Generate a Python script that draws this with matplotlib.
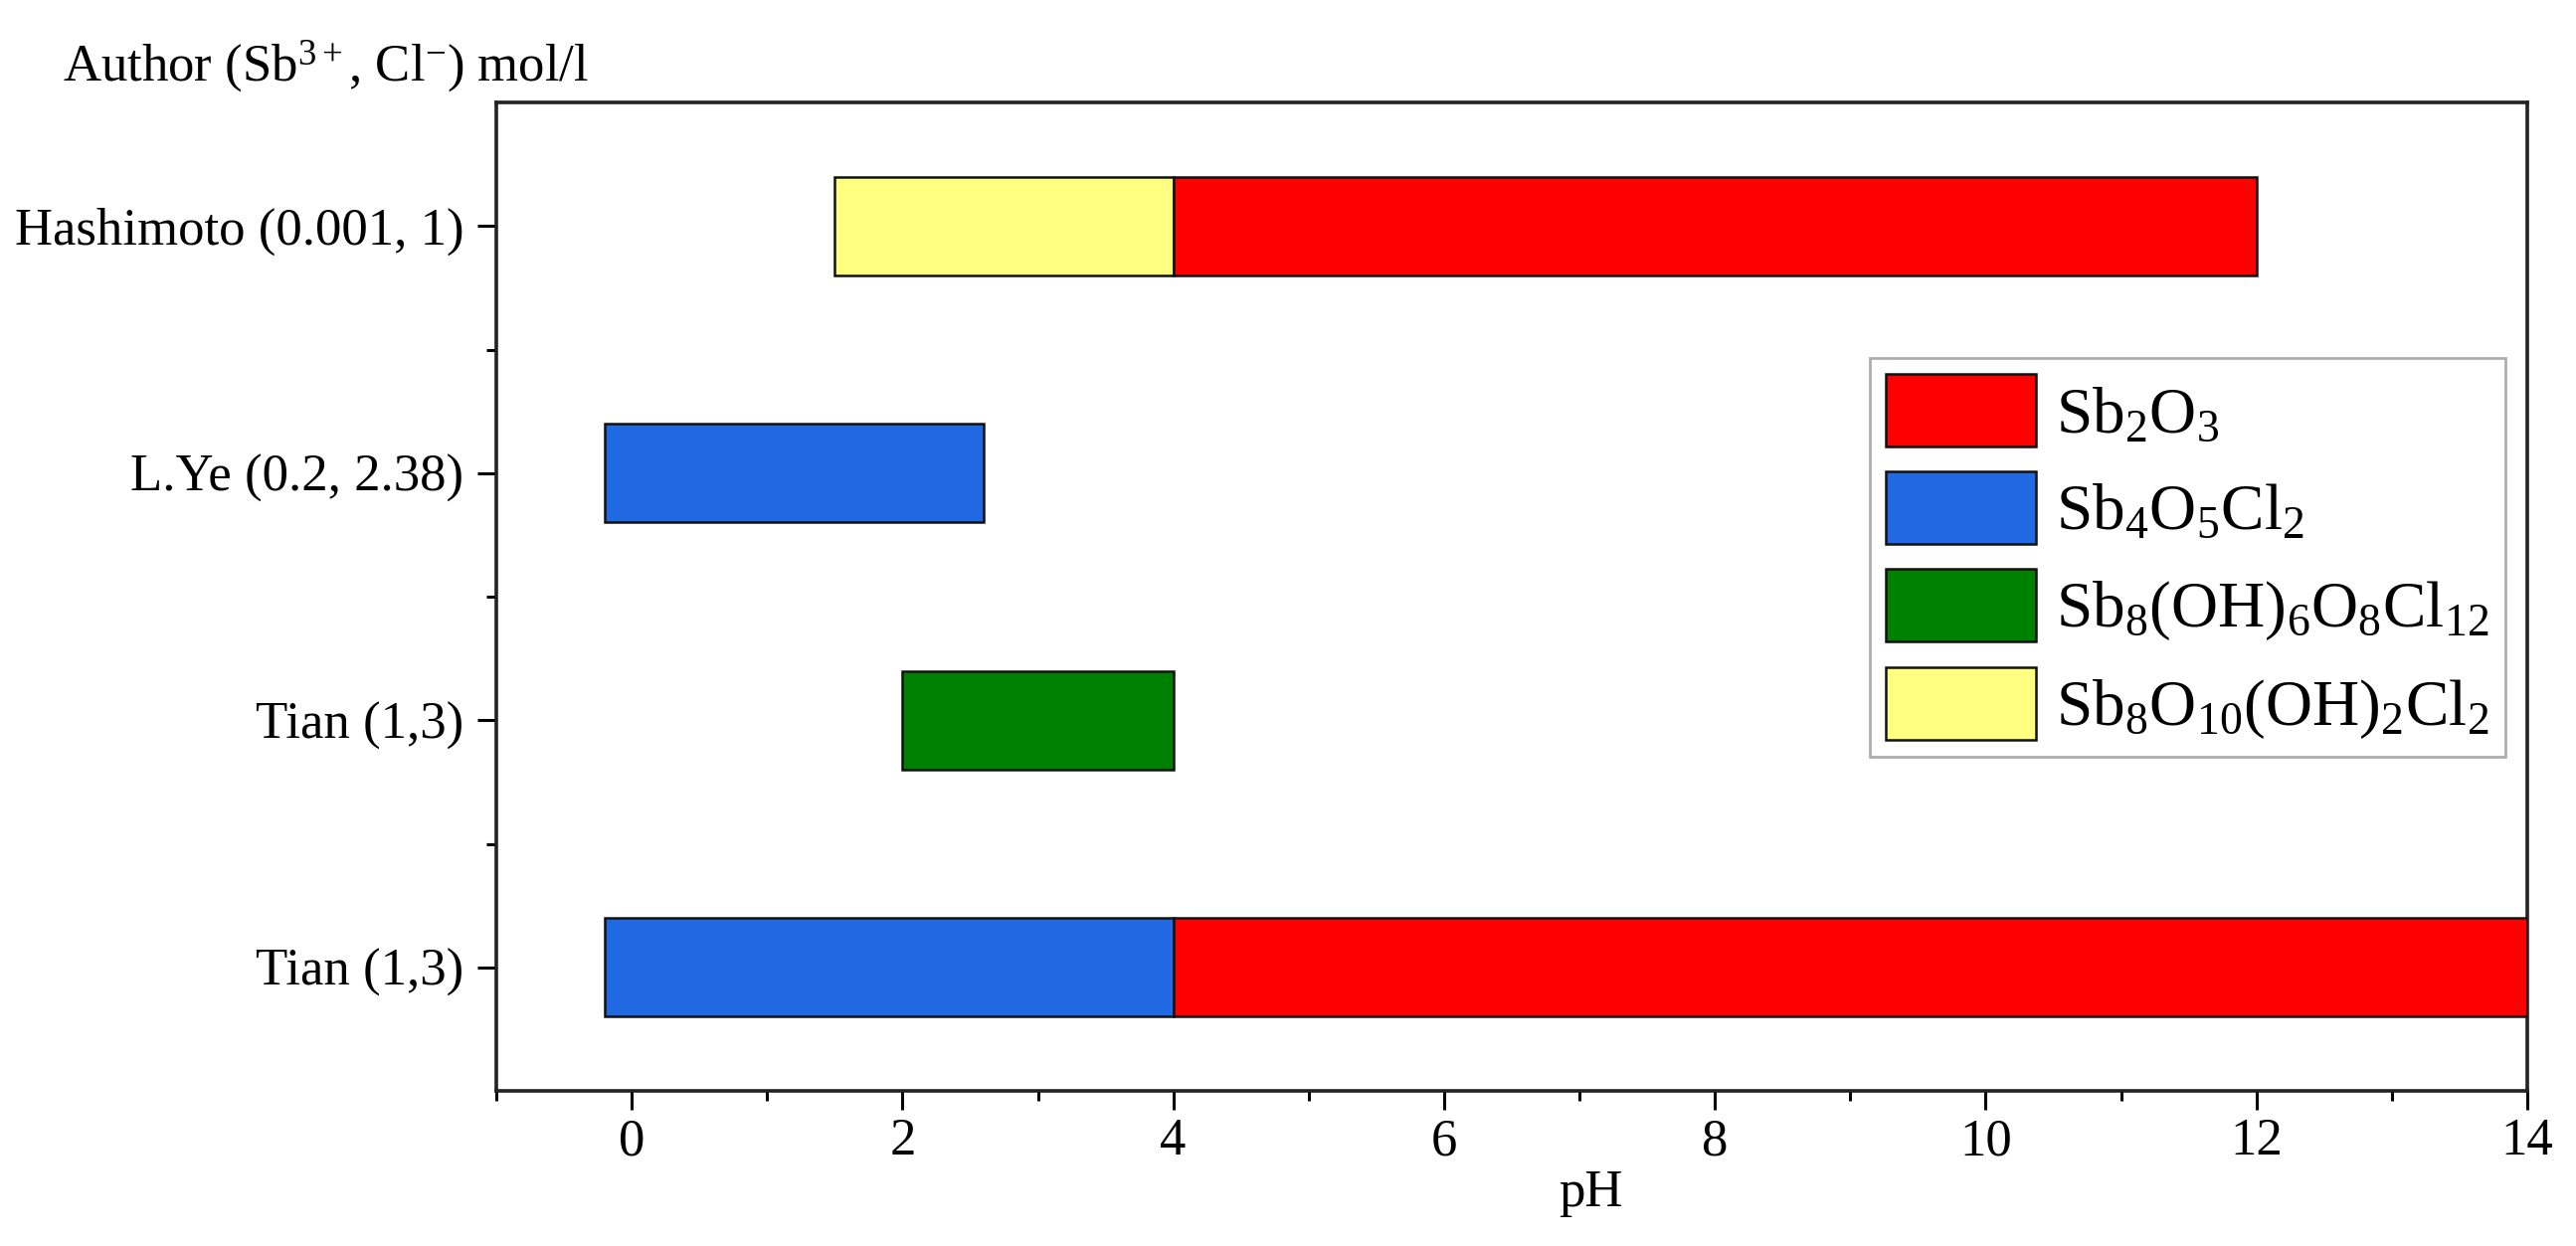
import matplotlib
matplotlib.use('Agg')
import matplotlib.pyplot as plt
from matplotlib.patches import Patch

plt.rcParams['font.family'] = ['Liberation Serif', 'DejaVu Serif']
plt.rcParams['mathtext.fontset'] = 'custom'
plt.rcParams['mathtext.rm'] = 'Liberation Serif'
plt.rcParams['mathtext.it'] = 'Liberation Serif:italic'

# categories from bottom to top
autores = ['Tian (1,3)', 'Tian (1,3)', 'L.Ye (0.2, 2.38)', 'Hashimoto (0.001, 1)']

fases = ['Sb$_2$O$_3$', 'Sb$_4$O$_5$Cl$_2$',
         'Sb$_8$(OH)$_6$O$_8$Cl$_{12}$', 'Sb$_8$O$_{10}$(OH)$_2$Cl$_2$']
cores = ['#FF0000', '#2069E3', '#008000', '#FFFF80']

# pH ranges: row, start, end, phase index
seg_linha = [3, 3, 2, 1, 0, 0]
seg_inicio = [1.5, 4, -0.2, 2, -0.2, 4]
seg_fim = [4, 12, 2.6, 4, 4, 14]
seg_fase = [3, 0, 1, 2, 1, 0]

fig = plt.figure(figsize=(25.9, 12.53), dpi=100)
ax = fig.add_axes([499/2590, 1-1097/1253, (2541-499)/2590, (1097-103)/1253])

for i in range(len(seg_linha)):
    ax.barh(seg_linha[i], seg_fim[i]-seg_inicio[i], left=seg_inicio[i], height=0.4,
            color=cores[seg_fase[i]], edgecolor='#111111', linewidth=1.8, zorder=3)

ax.set_xlim(-1, 14)
ax.set_ylim(-0.5, 3.5)
ax.set_xticks(range(0, 15, 2))
ax.set_xticks(range(-1, 15, 2), minor=True)
ax.set_yticks(range(len(autores)))
ax.set_yticklabels(autores)
ax.set_yticks([0.5, 1.5, 2.5], minor=True)

for s in ax.spines.values():
    s.set_linewidth(2.6)
    s.set_color('#222222')
ax.tick_params(axis='both', which='major', labelsize=38, length=13.5, width=2.2, direction='out')
ax.tick_params(axis='both', which='minor', length=7.5, width=2.2, direction='out')
ax.tick_params(axis='y', which='major', pad=10)
ax.tick_params(axis='x', which='major', pad=6)

ax.set_xlabel('pH', fontsize=38)
ax.xaxis.set_label_coords(0.5387, -0.0795)

fig.text(63/2590, 1-81/1253, 'Author (Sb$^{3+}$, Cl$^{-}$) mol/l', fontsize=38, va='baseline')

handles = [Patch(facecolor=cores[k], edgecolor='#111111', linewidth=1.8) for k in range(4)]
leg = ax.legend(handles, fases, loc='upper right', bbox_to_anchor=(0.9892, 0.7414),
                borderaxespad=0, fontsize=47, fancybox=False, edgecolor='#999999',
                handlelength=2.32, handleheight=1.34, labelspacing=0.38, handletextpad=0.3,
                borderpad=0.25)
leg.get_frame().set_linewidth(2)

fig.savefig('out.png', dpi=100)
